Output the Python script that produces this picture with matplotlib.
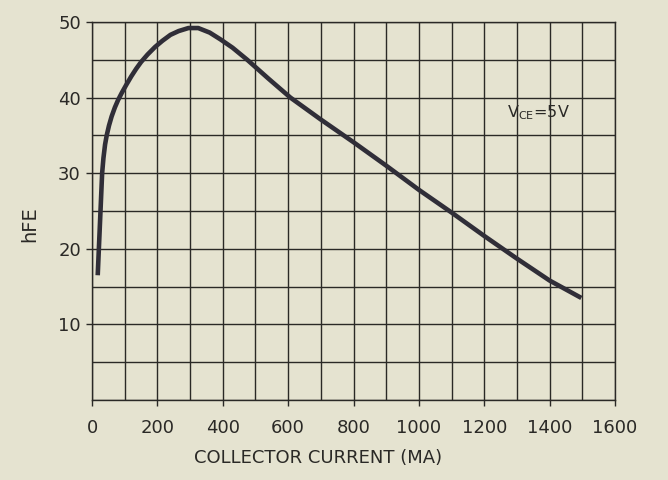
import matplotlib
matplotlib.use("Agg")
import matplotlib.pyplot as plt
from matplotlib.ticker import MultipleLocator

# Data
current_ma = [17.5, 20, 22, 25, 28, 31, 35, 40, 45, 52, 60, 70, 80, 92, 105,
              120, 135, 150, 170, 193, 215, 240, 265, 295, 325, 360, 393,
              430, 475, 540, 607, 700, 800, 900, 1000, 1100, 1200, 1300,
              1400, 1497]
hfe = [16.5, 19.0, 21.0, 24.0, 27.0, 30.0, 32.0, 33.8, 35.0, 36.3, 37.5, 38.7,
       39.7, 40.7, 41.7, 42.8, 43.8, 44.7, 45.7, 46.7, 47.5, 48.3, 48.8, 49.2,
       49.2, 48.6, 47.7, 46.6, 45.0, 42.5, 40.0, 37.1, 34.1, 31.0, 27.8, 24.8,
       21.7, 18.7, 15.8, 13.5]

x_ticks = [0, 200, 400, 600, 800, 1000, 1200, 1400, 1600]
y_ticks = [10, 20, 30, 40, 50]
x_label = "COLLECTOR CURRENT (MA)"
y_label = "hFE"
note = r"V$_{\mathregular{CE}}$=5V"

bg = "#e5e3d0"
ink = "#2a2926"

fig = plt.figure(figsize=(6.68, 4.80), dpi=100, facecolor=bg)
ax = fig.add_axes([92 / 668, 1 - 400 / 480, (615 - 92) / 668, (400 - 22) / 480])
ax.set_facecolor(bg)

ax.set_xlim(0, 1600)
ax.set_ylim(0, 50)
ax.xaxis.set_minor_locator(MultipleLocator(100))
ax.yaxis.set_minor_locator(MultipleLocator(5))
ax.set_xticks(x_ticks)
ax.set_xticklabels([str(v) for v in x_ticks])
ax.set_yticks(y_ticks)
ax.set_yticklabels([str(v) for v in y_ticks])

ax.grid(which="both", color=ink, linewidth=1.0)
ax.set_axisbelow(True)
for s in ax.spines.values():
    s.set_color(ink)
    s.set_linewidth(1.0)

ax.tick_params(which="major", direction="out", length=4, width=1.0, color=ink,
               labelcolor=ink, labelsize=13)
ax.tick_params(axis="x", which="major", pad=10)
ax.tick_params(axis="y", which="major", pad=4)
ax.tick_params(which="minor", length=0)

ax.plot(current_ma, hfe, color="#302e38", linewidth=3.3, solid_capstyle="butt",
        solid_joinstyle="round", zorder=3)

ax.set_xlabel(x_label, fontsize=13, color=ink)
ax.xaxis.set_label_coords((318 - 92) / 523, (400 - 449) / 378)
ax.set_ylabel(y_label, fontsize=14, color=ink)
ax.yaxis.set_label_coords((39 - 92) / 523, (400 - 224) / 378)

ax.text(1367, 38.0, note, fontsize=11.5, color=ink, ha="center", va="center")

fig.savefig("out.png", dpi=100, facecolor=bg)
